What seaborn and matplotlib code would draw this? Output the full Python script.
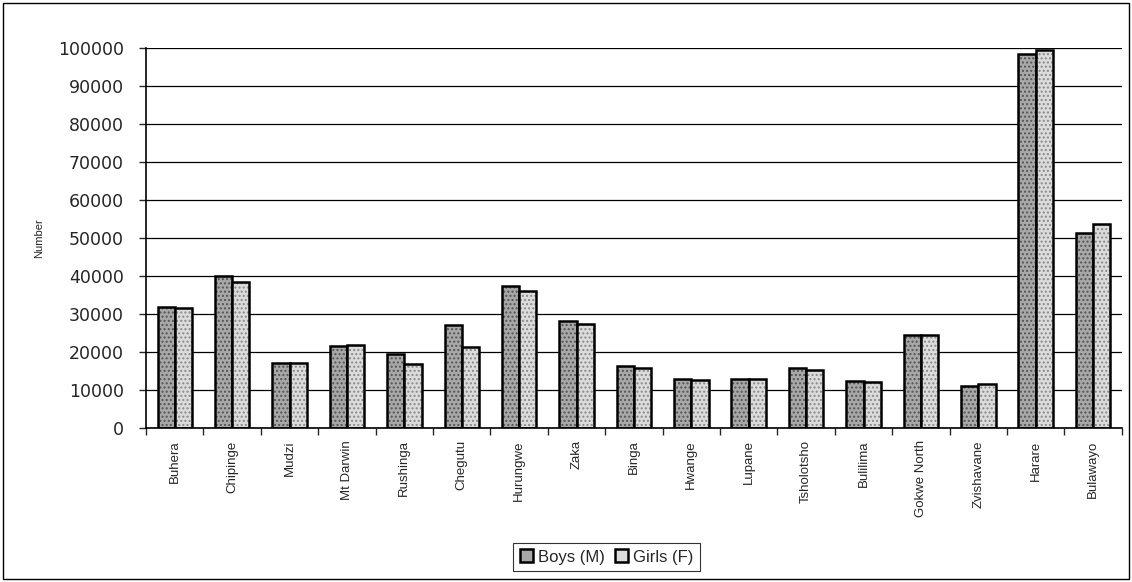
import numpy as np
import pandas as pd
import matplotlib
matplotlib.use("Agg")
import matplotlib.pyplot as plt
from matplotlib.patches import Rectangle
import seaborn as sns

districts = ["Buhera", "Chipinge", "Mudzi", "Mt Darwin", "Rushinga", "Chegutu",
             "Hurungwe", "Zaka", "Binga", "Hwange", "Lupane", "Tsholotsho",
             "Bulilima", "Gokwe North", "Zvishavane", "Harare", "Bulawayo"]
boys = [31700, 40000, 17100, 21600, 19500, 27100, 37400, 28000, 16300, 12900,
        12900, 15700, 12400, 24400, 11100, 98300, 51200]
girls = [31400, 38400, 17100, 21800, 16700, 21200, 36100, 27300, 15600, 12500,
         12900, 15200, 12000, 24400, 11500, 99400, 53500]
series = ["Boys (M)", "Girls (F)"]

df = pd.DataFrame({"District": districts * 2,
                   "Number": boys + girls,
                   "Sex": [series[0]] * len(boys) + [series[1]] * len(girls)})

sns.set_style("white")
plt.rcParams["font.family"] = ["Liberation Sans", "DejaVu Sans"]
plt.rcParams["hatch.linewidth"] = 1.0

fig = plt.figure(figsize=(11.32, 5.82), dpi=100)
ax = fig.add_axes([0.129, 0.265, 0.862, 0.653])

sns.barplot(data=df, x="District", y="Number", hue="Sex", ax=ax,
            palette=["#a8a8a8", "#dcdcdc"], width=0.6, gap=0,
            edgecolor="black", linewidth=1.8, saturation=1, legend=True)

# dotted fill like the original
for bars, hc in zip(ax.containers, ["#555555", "#8a8a8a"]):
    for b in bars:
        b.set_hatch("....")
        b._hatch_color = matplotlib.colors.to_rgba(hc)

ax.set_ylim(0, 100000)
ax.set_xlim(-0.5, len(districts) - 0.5)
ax.set_yticks(np.arange(0, 100001, 10000))
ax.yaxis.grid(True, color="black", linewidth=0.9)
ax.set_axisbelow(True)
ax.tick_params(axis="y", labelsize=12.5, left=True, length=5, width=1, direction="out", pad=11)
for t in ax.get_yticklabels():
    t.set_family("DejaVu Sans")
ax.tick_params(axis="x", which="major", length=0, labelsize=9.5, labelrotation=90, pad=9)
ax.set_xticks(np.arange(-0.5, len(districts)), minor=True)
ax.tick_params(axis="x", which="minor", length=5, width=1, direction="out", bottom=True)

ax.set_xlabel("")
ax.set_ylabel("Number", fontsize=8)
ax.yaxis.set_label_coords(-0.104, 0.5)
for s in ["top", "right"]:
    ax.spines[s].set_visible(False)
for s in ["left", "bottom"]:
    ax.spines[s].set_color("black")
    ax.spines[s].set_linewidth(1.2)

leg = ax.legend(loc="center", bbox_to_anchor=(0.536, 0.043), bbox_transform=fig.transFigure,
                ncol=2, fontsize=12, frameon=True, fancybox=False,
                handlelength=0.8, handleheight=0.8, handletextpad=0.3,
                columnspacing=0.6, borderpad=0.4)
leg.get_frame().set_edgecolor("black")
leg.get_frame().set_linewidth(0.8)

fig.patches.append(Rectangle((0.003, 0.005), 0.994, 0.99, transform=fig.transFigure,
                             fill=False, edgecolor="black", linewidth=1))

fig.savefig("out.png", dpi=100)
